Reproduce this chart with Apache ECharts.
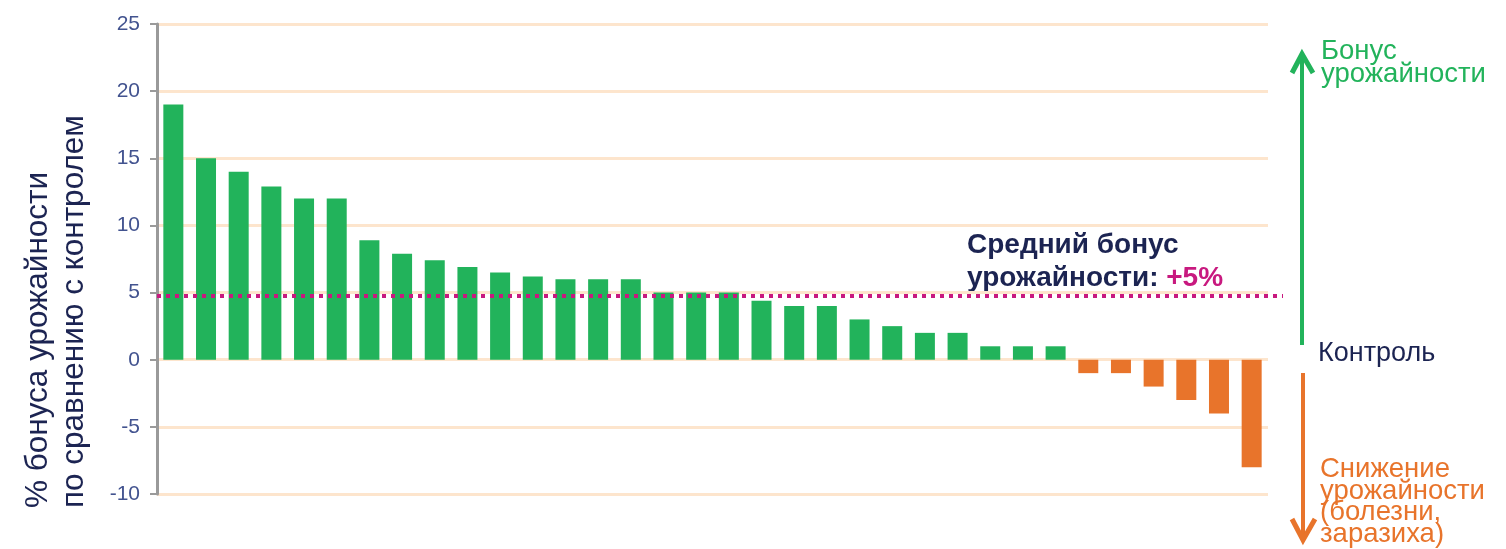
<!DOCTYPE html>
<html>
<head>
<meta charset="utf-8">
<script src="https://cdn.jsdelivr.net/npm/echarts@6/dist/echarts.min.js"></script>
<style>
html,body{margin:0;padding:0;background:#fff;}
#chart{width:1506px;height:549px;}
</style>
</head>
<body>
<div id="chart"></div>
<script>
// ---- data ----
const categories = ['1','2','3','4','5','6','7','8','9','10','11','12','13','14','15','16','17',
  '18','19','20','21','22','23','24','25','26','27','28','29','30','31','32','33','34'];
const yieldBonus = [19, 15, 14, 12.9, 12, 12, 8.9, 7.9, 7.4, 6.9, 6.5, 6.2, 6, 6, 6, 5, 5,
  5, 4.4, 4, 4, 3, 2.5, 2, 2, 1, 1, 1, -1, -1, -2, -3, -4, -8];
const averageBonus = 4.75;
const yTicks = [-10, -5, 0, 5, 10, 15, 20, 25];

const axisTitle = '% бонуса урожайности\nпо сравнению с контролем';
const avgLabelLine1 = 'Средний бонус';
const avgLabelLine2 = 'урожайности: ';
const avgLabelValue = '+5%';
const upLabel = 'Бонус\nурожайности';
const controlLabel = 'Контроль';
const downLabel = 'Снижение\nурожайности\n(болезни,\nзаразиха)';

// ---- styles ----
const GREEN = '#22b35b';
const ORANGE = '#e8742b';
const NAVY = '#1c2452';
const MAGENTA = '#c8197f';
const FONT = '"Liberation Sans", Arial, sans-serif';

const chart = echarts.init(document.getElementById('chart'), null, {renderer: 'canvas'});

const option = {
  backgroundColor: '#ffffff',
  animation: false,
  grid: [
    {left: 157, right: 238, top: 24, bottom: 55},
    {left: 157, right: 223, top: 24, bottom: 55}
  ],
  xAxis: [
    {
      type: 'category', data: categories, gridIndex: 0,
      axisLine: {show: false}, axisTick: {show: false}, axisLabel: {show: false},
      splitLine: {show: false}
    },
    {type: 'value', gridIndex: 1, min: 0, max: 1, show: false}
  ],
  yAxis: [
    {
      type: 'value', gridIndex: 0,
      min: yTicks[0], max: yTicks[yTicks.length - 1], interval: yTicks[1] - yTicks[0],
      axisLine: {show: true, lineStyle: {color: '#9a9a9a', width: 3}},
      axisTick: {show: true, length: 7, lineStyle: {color: '#9a9a9a', width: 2}},
      axisLabel: {color: '#42538f', fontSize: 21, fontFamily: FONT, margin: 17},
      splitLine: {show: true, lineStyle: {color: '#fde5cd', width: 3}}
    },
    {type: 'value', gridIndex: 1, min: yTicks[0], max: yTicks[yTicks.length - 1], show: false}
  ],
  series: [
    {
      type: 'bar', xAxisIndex: 0, yAxisIndex: 0,
      data: yieldBonus,
      barWidth: 20,
      itemStyle: {color: p => p.value >= 0 ? GREEN : ORANGE},
      z: 2
    },
    {
      type: 'line', xAxisIndex: 1, yAxisIndex: 1,
      data: [[0, averageBonus], [1, averageBonus]],
      symbol: 'none',
      lineStyle: {color: MAGENTA, width: 4, type: [4, 5]},
      z: 5
    }
  ],
  graphic: [
    {
      type: 'text', x: 56, y: 508, rotation: Math.PI / 2,
      style: {text: axisTitle, font: '31.5px ' + FONT, fill: NAVY, align: 'left', verticalAlign: 'middle', lineHeight: 36}
    },
    {
      type: 'text', x: 967, y: 262,
      style: {
        text: '{b|' + avgLabelLine1 + '}\n{b|' + avgLabelLine2 + '}{m|' + avgLabelValue + '}',
        align: 'left', verticalAlign: 'middle',
        rich: {
          b: {font: 'bold 28px ' + FONT, fill: NAVY, lineHeight: 33},
          m: {font: 'bold 28px ' + FONT, fill: MAGENTA, lineHeight: 33}
        }
      }
    },
    {
      type: 'text', x: 1321, y: 63,
      style: {text: upLabel, font: '27.5px ' + FONT, fill: GREEN, align: 'left', verticalAlign: 'middle', lineHeight: 23}
    },
    {
      type: 'text', x: 1318, y: 354,
      style: {text: controlLabel, font: '27px ' + FONT, fill: NAVY, align: 'left', verticalAlign: 'middle'}
    },
    {
      type: 'text', x: 1320, y: 502,
      style: {text: downLabel, font: '27.5px ' + FONT, fill: ORANGE, align: 'left', verticalAlign: 'middle', lineHeight: 21.5}
    },
    {
      type: 'line', shape: {x1: 1302, y1: 345, x2: 1302, y2: 55},
      style: {stroke: GREEN, lineWidth: 4}
    },
    {
      type: 'polyline', shape: {points: [[1292, 73], [1302, 54], [1313, 73]]},
      style: {stroke: GREEN, lineWidth: 5, fill: null}
    },
    {
      type: 'line', shape: {x1: 1303, y1: 373, x2: 1303, y2: 540},
      style: {stroke: ORANGE, lineWidth: 4}
    },
    {
      type: 'polyline', shape: {points: [[1292, 519], [1303, 540], [1315, 519]]},
      style: {stroke: ORANGE, lineWidth: 5, fill: null}
    }
  ]
};

chart.setOption(option);
</script>
</body>
</html>
